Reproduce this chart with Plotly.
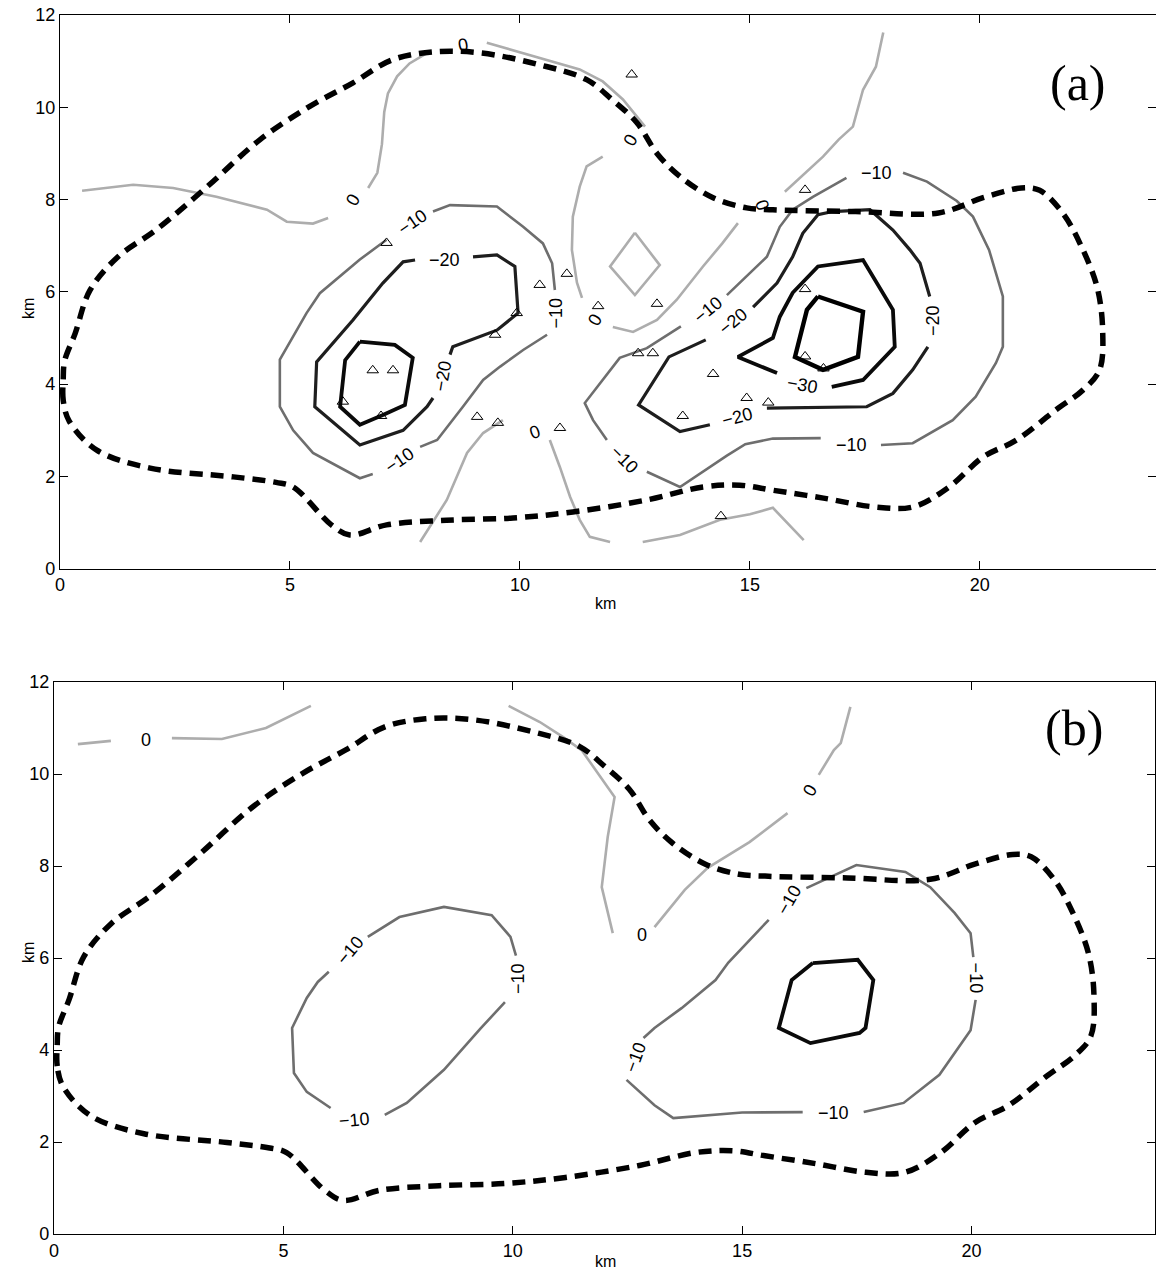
import plotly.graph_objects as go

# ---------------- shared outline (dashed) ----------------
BOUNDARY_X = [0.2, 0.07, 0.07, 0.1, 0.33, 0.65, 1.25, 2.1, 3.2, 4.35, 5.43, 6.37, 7.2, 8.1, 9.13, 10.43,
              11.45, 12.0, 12.54, 12.98, 13.48, 14.2, 14.93, 15.5, 17.3, 19.1, 20.07, 20.9, 21.3, 21.8,
              22.2, 22.55, 22.67, 22.6, 22.24, 21.65, 20.8, 20.07, 19.33, 18.55, 17.7, 16.6, 15.5,
              14.78, 13.98, 12.76, 11.15, 9.85, 8.4, 7.1, 6.3, 5.9, 5.07, 4.7, 3.77, 1.96, 0.8, 0.2]
BOUNDARY_Y = [3.2, 3.65, 4.1, 4.5, 5.1, 6.03, 6.75, 7.35, 8.28, 9.3, 10.02, 10.53, 11.02, 11.2, 11.18, 10.92,
              10.6, 10.17, 9.67, 9.0, 8.5, 8.04, 7.82, 7.78, 7.74, 7.71, 8.04, 8.25, 8.2, 7.71,
              7.0, 6.1, 5.17, 4.3, 3.87, 3.44, 2.79, 2.42, 1.77, 1.34, 1.34, 1.53, 1.7,
              1.81, 1.77, 1.49, 1.23, 1.1, 1.05, 0.95, 0.73, 0.95, 1.77, 1.87, 1.99, 2.18, 2.57, 3.2]

# ---------------- panel (a) contours ----------------
A_LEVEL0_X = [
    [0.48, 1.59, 2.46, 3.4, 4.5, 4.93, 5.5, 5.83],
    [6.7, 6.9, 7.0, 7.05, 7.13, 7.33, 7.6, 8.04],
    [9.28, 10.2, 11.3, 11.8, 12.24, 12.72],
    [11.8, 11.45, 11.3, 11.15, 11.13, 11.24, 11.35],
    [12.5, 13.04, 12.5, 11.96, 12.5],
    [12.02, 12.46, 12.98, 13.41, 13.98, 14.4, 14.74],
    [15.76, 16.22, 16.59, 16.93, 17.24, 17.46, 17.74, 17.9],
    [7.83, 8.41, 8.85, 9.2, 9.63],
    [10.65, 10.87, 11.09, 11.3, 11.52, 11.96],
    [12.67, 13.48, 14.35, 15.0, 15.5, 16.17],
]
A_LEVEL0_Y = [
    [8.19, 8.32, 8.25, 8.06, 7.78, 7.52, 7.48, 7.6],
    [8.25, 8.58, 9.2, 9.9, 10.3, 10.67, 10.95, 11.21],
    [11.4, 11.14, 10.82, 10.56, 10.17, 9.58],
    [8.93, 8.72, 8.28, 7.63, 6.91, 6.2, 5.87],
    [7.28, 6.58, 5.93, 6.55, 7.28],
    [5.24, 5.13, 5.39, 5.83, 6.55, 7.05, 7.49],
    [8.17, 8.58, 8.93, 9.3, 9.58, 10.38, 10.88, 11.62],
    [0.58, 1.49, 2.51, 2.94, 3.22],
    [2.79, 2.2, 1.56, 1.06, 0.69, 0.58],
    [0.58, 0.73, 1.06, 1.18, 1.32, 0.62],
]
A_LEVEL10_X = [
    [8.11, 8.48, 9.5, 10.07, 10.5, 10.7, 10.76],
    [10.59, 10.07, 9.57, 9.2, 8.76, 8.2, 7.83],
    [6.8, 6.52, 5.5, 5.07, 4.78, 4.78, 5.36, 5.65, 6.52, 7.1],
    [14.5, 14.93, 15.37, 15.65, 15.93, 16.37, 17.1],
    [18.33, 18.85, 19.5, 19.85, 20.2, 20.41, 20.5, 20.5, 20.35, 19.91, 19.41, 18.54, 17.85],
    [16.54, 15.5, 14.9, 14.5, 13.48, 12.76],
    [11.89, 11.59, 11.41, 11.74, 12.17, 12.76, 13.04, 13.5],
]
A_LEVEL10_Y = [
    [7.74, 7.88, 7.85, 7.41, 7.05, 6.62, 6.04],
    [5.07, 4.74, 4.38, 4.09, 3.51, 2.79, 2.64],
    [2.05, 1.96, 2.51, 3.0, 3.51, 4.53, 5.54, 5.97, 6.7, 7.13],
    [5.93, 6.33, 6.76, 7.41, 7.78, 8.06, 8.47],
    [8.58, 8.39, 7.97, 7.63, 6.91, 6.19, 5.9, 4.81, 4.46, 3.73, 3.22, 2.72, 2.68],
    [2.83, 2.82, 2.7, 2.45, 1.77, 2.1],
    [2.79, 3.22, 3.59, 4.02, 4.57, 4.78, 4.96, 5.25],
]
A_LEVEL20_X = [
    [8.98, 9.5, 9.89, 9.96, 9.5, 8.54, 8.48],
    [8.11, 7.98, 7.46, 6.52, 5.54, 5.58, 6.37, 7.02, 7.46, 7.72],
    [15.07, 15.59, 15.93, 16.15, 16.48, 16.8, 17.61, 18.11, 18.48, 18.7, 18.91],
    [18.87, 18.54, 18.11, 17.54, 15.37],
    [14.13, 13.48, 12.58, 13.24, 14.04],
]
A_LEVEL20_Y = [
    [6.76, 6.8, 6.55, 5.54, 5.17, 4.81, 4.64],
    [3.7, 3.51, 3.0, 2.68, 3.51, 4.48, 5.39, 6.19, 6.65, 6.69],
    [5.67, 6.19, 6.76, 7.27, 7.67, 7.74, 7.78, 7.34, 6.91, 6.62, 5.9],
    [4.81, 4.31, 3.8, 3.51, 3.48],
    [3.12, 2.97, 3.55, 4.59, 4.96],
]
A_LEVEL30_X = [
    [6.52, 7.28, 7.67, 7.5, 7.02, 6.52, 6.09, 6.2, 6.52],
    [16.78, 17.46, 18.15, 18.11, 17.46, 16.48, 15.93, 15.65, 15.5, 14.74, 15.59],
]
A_LEVEL30_Y = [
    [4.92, 4.85, 4.57, 3.55, 3.33, 3.12, 3.51, 4.52, 4.92],
    [3.94, 4.09, 4.81, 5.61, 6.69, 6.55, 5.98, 5.46, 5.0, 4.59, 4.24],
]
A_LEVEL40_X = [[16.48, 17.46, 17.35, 16.59, 15.98, 16.24, 16.48]]
A_LEVEL40_Y = [[5.9, 5.57, 4.59, 4.31, 4.59, 5.61, 5.9]]

A_STATION_X = [7.1, 6.8, 7.24, 6.15, 6.98, 9.46, 9.93, 10.43, 11.02, 11.7, 12.57, 12.89, 12.98,
               9.07, 9.52, 10.87, 16.2, 14.2, 13.54, 14.93, 15.4, 16.2, 16.2, 16.6, 14.37, 12.43]
A_STATION_Y = [7.06, 4.3, 4.3, 3.62, 3.31, 5.07, 5.54, 6.15, 6.39, 5.69, 4.67, 4.67, 5.74,
               3.29, 3.16, 3.05, 8.21, 4.22, 3.31, 3.7, 3.6, 6.06, 4.6, 4.34, 1.14, 10.71]

A_LABEL_TEXT = ["0", "0", "0", "0", "0", "0",
                "−10", "−10", "−10", "−10", "−10", "−10", "−10",
                "−20", "−20", "−20", "−20", "−20", "−30"]
A_LABEL_X = [6.37, 8.76, 12.4, 11.63, 15.26, 10.33,
             7.67, 10.78, 7.39, 14.09, 17.76, 17.2, 12.28,
             8.37, 8.33, 14.65, 18.98, 14.74, 16.15]
A_LABEL_Y = [7.99, 11.36, 9.3, 5.39, 7.88, 2.96,
             7.52, 5.55, 2.36, 5.6, 8.58, 2.68, 2.36,
             6.69, 4.17, 5.36, 5.39, 3.29, 3.98]
A_LABEL_ANGLE = [-60, -10, -60, -60, 70, -20,
                 -35, -90, -35, -40, 0, 0, 45,
                 0, -80, -40, -90, -15, 10]

# ---------------- panel (b) contours ----------------
B_LEVEL0_X = [
    [0.52, 1.24],
    [2.57, 3.66, 4.62, 5.6],
    [9.91, 10.59, 11.1, 11.5, 12.22, 12.07, 11.94, 12.18],
    [17.36, 17.15, 17.0, 16.67],
    [15.99, 15.16, 14.25, 13.75, 13.09],
]
B_LEVEL0_Y = [
    [10.65, 10.72],
    [10.78, 10.76, 11.0, 11.48],
    [11.48, 11.13, 10.8, 10.52, 9.5, 8.63, 7.54, 6.54],
    [11.46, 10.67, 10.52, 9.98],
    [9.15, 8.52, 7.96, 7.48, 6.67],
]
B_LEVEL10_X = [
    [6.84, 7.53, 8.5, 9.54, 9.95, 10.07],
    [9.83, 9.3, 8.5, 7.69, 7.21],
    [6.03, 5.51, 5.23, 5.19, 5.51, 5.75, 5.99],
    [16.4, 17.49, 18.56, 19.1, 19.63, 19.98, 20.04],
    [20.09, 19.98, 19.3, 18.52, 17.65],
    [16.32, 15.0, 13.5, 13.09, 12.48],
    [12.85, 13.09, 13.68, 14.42, 14.7, 15.16, 15.58],
]
B_LEVEL10_Y = [
    [6.46, 6.89, 7.11, 6.93, 6.46, 6.05],
    [5.04, 4.47, 3.57, 2.85, 2.59],
    [2.74, 3.09, 3.5, 4.48, 5.13, 5.48, 5.7],
    [7.52, 8.02, 7.87, 7.54, 6.98, 6.54, 6.02],
    [5.09, 4.43, 3.46, 2.85, 2.65],
    [2.65, 2.64, 2.52, 2.8, 3.35],
    [4.26, 4.48, 4.91, 5.52, 5.9, 6.39, 6.83],
]
B_LEVEL20_X = [[16.54, 17.52, 17.86, 17.69, 17.56, 16.49, 15.8, 16.08, 16.54]]
B_LEVEL20_Y = [[5.89, 5.96, 5.52, 4.48, 4.37, 4.15, 4.48, 5.52, 5.89]]

B_LABEL_TEXT = ["0", "0", "0", "−10", "−10", "−10", "−10", "−10", "−10", "−10"]
B_LABEL_X = [2.0, 16.49, 12.81, 10.11, 6.56, 6.47, 20.09, 17.0, 12.68, 16.03]
B_LABEL_Y = [10.74, 9.65, 6.5, 5.56, 2.48, 6.17, 5.56, 2.63, 3.85, 7.26]
B_LABEL_ANGLE = [0, -60, 0, -90, -5, -50, 90, 0, -70, -60]

X_TICKS = [0, 5, 10, 15, 20]
Y_TICKS = [0, 2, 4, 6, 8, 10, 12]

# ---------------- styles ----------------
STYLE = {
    "0": dict(color="#adadad", width=2.6),
    "10": dict(color="#6e6e6e", width=2.6),
    "20": dict(color="#1e1e1e", width=3.2),
    "30": dict(color="#0a0a0a", width=3.8),
    "40": dict(color="#000000", width=4.4),
}
FONT = "Liberation Sans, Arial, Helvetica, sans-serif"

fig = go.Figure()


def add_segments(xs_list, ys_list, style, xa, ya):
    for xs, ys in zip(xs_list, ys_list):
        fig.add_trace(go.Scatter(x=xs, y=ys, mode="lines", line=dict(**style),
                                 xaxis=xa, yaxis=ya, hoverinfo="skip", showlegend=False))


def add_boundary(xa, ya):
    fig.add_trace(go.Scatter(x=BOUNDARY_X, y=BOUNDARY_Y, mode="lines",
                             line=dict(color="black", width=5.5, dash="13px,8px",
                                       shape="spline", smoothing=1.0),
                             xaxis=xa, yaxis=ya, hoverinfo="skip", showlegend=False))


# panel (a)
add_segments(A_LEVEL0_X, A_LEVEL0_Y, STYLE["0"], "x", "y")
add_segments(A_LEVEL10_X, A_LEVEL10_Y, STYLE["10"], "x", "y")
add_segments(A_LEVEL20_X, A_LEVEL20_Y, STYLE["20"], "x", "y")
add_segments(A_LEVEL30_X, A_LEVEL30_Y, STYLE["30"], "x", "y")
add_segments(A_LEVEL40_X, A_LEVEL40_Y, STYLE["40"], "x", "y")
add_boundary("x", "y")
fig.add_trace(go.Scatter(x=A_STATION_X, y=A_STATION_Y, mode="markers",
                         marker=dict(symbol="triangle-up-open", size=10, color="black",
                                     line=dict(width=1, color="black")),
                         xaxis="x", yaxis="y", hoverinfo="skip", showlegend=False))

# panel (b)
add_segments(B_LEVEL0_X, B_LEVEL0_Y, STYLE["0"], "x2", "y2")
add_segments(B_LEVEL10_X, B_LEVEL10_Y, STYLE["10"], "x2", "y2")
add_segments(B_LEVEL20_X, B_LEVEL20_Y, STYLE["30"], "x2", "y2")
add_boundary("x2", "y2")

LABEL_FONT = dict(family=FONT, size=18, color="black")
annotations = []
for t, x, y, a in zip(A_LABEL_TEXT, A_LABEL_X, A_LABEL_Y, A_LABEL_ANGLE):
    annotations.append(dict(text=t, x=x, y=y, xref="x", yref="y", showarrow=False,
                            textangle=a, font=LABEL_FONT))
for t, x, y, a in zip(B_LABEL_TEXT, B_LABEL_X, B_LABEL_Y, B_LABEL_ANGLE):
    annotations.append(dict(text=t, x=x, y=y, xref="x2", yref="y2", showarrow=False,
                            textangle=a, font=LABEL_FONT))

W, H = 1156, 1282
SERIF = "Liberation Serif, Times New Roman, serif"
annotations.append(dict(text="(a)", x=1108 / W, y=1 - 53 / H, xref="paper", yref="paper",
                        showarrow=False, font=dict(family=SERIF, size=50, color="black")))
annotations.append(dict(text="(b)", x=1105 / W, y=1 - 728 / H, xref="paper", yref="paper",
                        showarrow=False, font=dict(family=SERIF, size=50, color="black")))
for (xx, yy, ang) in [(605, 603, 0), (605, 1272, 0), (18, 296, -90), (18, 965, -90)]:
    annotations.append(dict(text="km", x=xx / W, y=1 - yy / H, xref="paper", yref="paper",
                            showarrow=False, textangle=ang,
                            font=dict(family=FONT, size=16, color="black")))

axis_common = dict(showgrid=False, zeroline=False, showline=True, linecolor="black", linewidth=1.3,
                   mirror="ticks", ticks="inside", ticklen=8, tickwidth=1, tickcolor="black",
                   tickfont=dict(family=FONT, size=18, color="black"), tickmode="array",
                   automargin=False)

fig.update_layout(
    width=W, height=H, margin=dict(l=0, r=0, t=0, b=0, autoexpand=False),
    paper_bgcolor="white", plot_bgcolor="white", showlegend=False,
    xaxis=dict(domain=[60 / W, 1.0], range=[0, 23.83], anchor="y", tickvals=X_TICKS, **axis_common),
    yaxis=dict(domain=[1 - 568.7 / H, 1 - 15 / H], range=[0, 12], anchor="x", tickvals=Y_TICKS,
               **axis_common),
    xaxis2=dict(domain=[54 / W, 1155 / W], range=[0, 24], anchor="y2", tickvals=X_TICKS,
                **axis_common),
    yaxis2=dict(domain=[1 - 1234 / H, 1 - 682 / H], range=[0, 12], anchor="x2", tickvals=Y_TICKS,
                **axis_common),
    annotations=annotations,
)

fig.write_html("out.html", config={"displayModeBar": False},
               post_script="document.body.style.margin='0px';document.body.style.overflow='hidden';")
